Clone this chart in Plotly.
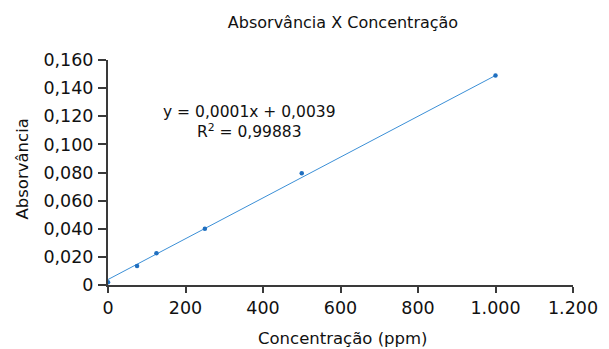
import plotly.graph_objects as go

concentracao = [0, 75, 125, 250, 500, 1000]
absorvancia = [0.0019, 0.0136, 0.0226, 0.0400, 0.0795, 0.1490]

# linear trendline
trend_intercept = 0.0039
trend_slope = 0.0001451

x_tickvals = [0, 200, 400, 600, 800, 1000, 1200]
x_ticktext = ["0", "200", "400", "600", "800", "1.000", "1.200"]
y_tickvals = [0, 0.02, 0.04, 0.06, 0.08, 0.10, 0.12, 0.14, 0.16]
y_ticktext = ["0", "0,020", "0,040", "0,060", "0,080", "0,100", "0,120", "0,140", "0,160"]

title_text = "Absorvância X Concentração"
x_title = "Concentração (ppm)"
y_title = "Absorvância"
eq_text = "y = 0,0001x + 0,0039<br>R<sup>2</sup> = 0,99883"

fit_x = [min(concentracao), max(concentracao)]
fit_y = [trend_slope * v + trend_intercept for v in fit_x]

FONT = "DejaVu Sans"
AX = "#3a3a3a"
TXT = "#111111"
W, H = 601, 341  # page body has an 8px margin

fig = go.Figure()
fig.add_trace(go.Scatter(x=fit_x, y=fit_y, mode="lines",
                         line=dict(color="#3b8fd6", width=1), hoverinfo="skip"))
fig.add_trace(go.Scatter(x=concentracao, y=absorvancia, mode="markers",
                         marker=dict(color="#1f6fc0", size=4.5)))

fig.update_layout(
    width=W, height=H,
    margin=dict(l=100, r=36, t=52, b=64),
    paper_bgcolor="white", plot_bgcolor="white",
    showlegend=False,
    font=dict(family=FONT, color=TXT),
    title=dict(text=title_text, x=335 / W, xanchor="center", y=1 - 14 / H, yanchor="middle",
               font=dict(family=FONT, size=16, color=TXT)),
    xaxis=dict(range=[0, 1200], tickvals=x_tickvals, ticktext=x_ticktext, automargin=False,
               showgrid=False, zeroline=False, showline=True, linecolor=AX, linewidth=2,
               ticks="outside", ticklen=6, tickwidth=1.5, tickcolor=AX, ticklabelstandoff=0,
               tickfont=dict(size=17.5, family=FONT, color=TXT)),
    yaxis=dict(range=[0, 0.16], tickvals=y_tickvals, ticktext=y_ticktext, automargin=False,
               showgrid=False, zeroline=False, showline=True, linecolor=AX, linewidth=2,
               ticks="outside", ticklen=8, tickwidth=1.5, tickcolor=AX, ticklabelstandoff=1,
               tickfont=dict(size=17.5, family=FONT, color=TXT)),
)
fig.add_annotation(x=0.5, y=0, xref="paper", yref="paper", text=x_title, showarrow=False,
                   xanchor="center", yanchor="middle",
                   xshift=2.5, yshift=-53, font=dict(size=16.5, family=FONT, color=TXT))
fig.add_annotation(x=0, y=0.5, xref="paper", yref="paper", text=y_title, showarrow=False,
                   xanchor="center", yanchor="middle",
                   textangle=-90, xshift=-86, yshift=3, font=dict(size=16.5, family=FONT, color=TXT))
fig.add_annotation(x=366, y=0.1156, xref="x", yref="y", text=eq_text, showarrow=False,
                   xanchor="center", yanchor="middle",
                   font=dict(size=15.5, family=FONT, color=TXT), align="center")

fig.write_html("out.html")
